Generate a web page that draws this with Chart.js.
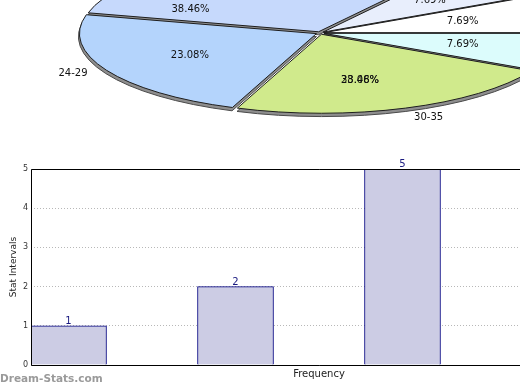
<!DOCTYPE html>
<html><head><meta charset="utf-8">
<script src="https://cdn.jsdelivr.net/npm/chart.js@4.4.1/dist/chart.umd.min.js"></script>
<style>
html,body{margin:0;padding:0;width:520px;height:390px;overflow:hidden;background:#fff;}
#barWrap{position:absolute;left:0;top:150px;}
#pieWrap{position:absolute;left:40px;top:-217px;}
#credit{position:absolute;left:0;top:372px;font:bold 10.5px 'DejaVu Sans';line-height:13px;color:#9a9a9a;white-space:nowrap;}
</style></head><body>
<div id="barWrap"><canvas id="bar" width="640" height="240"></canvas></div>
<div id="pieWrap"><canvas id="pie" width="560" height="500"></canvas></div>
<div id="credit">Dream-Stats.com</div>
<script>
// ---------- data ----------
// pie slices, clockwise from 3 o'clock
const pieCategories = ['', '30-35', '24-29', '', '', ''];
const pieValues = [1, 3, 3, 4, 1, 1];
const pieValueLabels = [['7.69%'], ['23.08%', '38.46%'], ['23.08%'], ['38.46%'], ['7.69%'], ['7.69%']];
// bar chart
const barValues = [1, 2, 5];
const yTicks = [0, 1, 2, 3, 4, 5];
const xTitle = 'Frequency';
const yTitle = 'Stat Intervals';

// ---------- style ----------
const pieColors = ['#dcfcfc', '#d0ea8c', '#b4d4fc', '#c6d9fc', '#e8eefc', '#ffffff'];
const pieStyle = { ratio: 1 / 3, depth: 3, radius: 237, explode: 16, labelR: 0.62, outerR: 1.16,
  labelAt: [0.5, 0.56, 0.5, 0.13, 0.5, 0.5], outerAt: [0.5, 0.47, 0.52, 0.5, 0.5, 0.5] };
const FONT = "'DejaVu Sans'";

function arcGeom(a) {
  const off = (a.options.offset || 0) / 4;
  const mid = (a.startAngle + a.endAngle) / 2;
  const circ = a.endAngle - a.startAngle;
  const fix = 1 - Math.sin(Math.min(Math.PI, circ));
  return { cx: a.x + Math.cos(mid) * off, cy: a.y + Math.sin(mid) * off * pieStyle.ratio, r: a.outerRadius + off * fix };
}

const pie3d = {
  id: 'pie3d',
  beforeDatasetsDraw(chart) {
    const ctx = chart.ctx;
    const arcs = chart.getDatasetMeta(0).data;
    const k = pieStyle.ratio, d = pieStyle.depth;
    ctx.save();
    arcs.forEach(a => {
      const g = arcGeom(a);
      ctx.beginPath();
      ctx.moveTo(g.cx, g.cy + d);
      ctx.ellipse(g.cx, g.cy + d, g.r + 1, (g.r + 1) * k, 0, a.startAngle, a.endAngle);
      ctx.closePath();
      ctx.fillStyle = '#8e8e8e'; ctx.fill();
      ctx.strokeStyle = '#4a4a4a'; ctx.lineWidth = 1; ctx.stroke();
    });
    ctx.restore();
    ctx.save();
    const cy = arcs[0].y;
    ctx.translate(0, cy); ctx.scale(1, k); ctx.translate(0, -cy);
  },
  afterDatasetsDraw(chart) {
    const ctx = chart.ctx;
    ctx.restore();
    const arcs = chart.getDatasetMeta(0).data;
    const k = pieStyle.ratio;
    ctx.save();
    arcs.forEach(a => {
      const g = arcGeom(a);
      ctx.beginPath();
      ctx.moveTo(g.cx, g.cy);
      ctx.ellipse(g.cx, g.cy, g.r, g.r * k, 0, a.startAngle, a.endAngle);
      ctx.closePath();
      ctx.strokeStyle = '#1e1e1e'; ctx.lineWidth = 1; ctx.stroke();
    });
    ctx.font = '10px ' + FONT;
    ctx.fillStyle = '#111';
    ctx.textAlign = 'center';
    ctx.textBaseline = 'middle';
    arcs.forEach((a, i) => {
      const R = a.outerRadius;
      const t = a.startAngle + pieStyle.labelAt[i] * (a.endAngle - a.startAngle);
      const lx = a.x + Math.cos(t) * R * pieStyle.labelR;
      const ly = a.y + Math.sin(t) * R * pieStyle.labelR * k;
      pieValueLabels[i].forEach(s => ctx.fillText(s, lx, ly));
      if (pieCategories[i]) {
        const m = a.startAngle + pieStyle.outerAt[i] * (a.endAngle - a.startAngle);
        ctx.fillText(pieCategories[i], a.x + Math.cos(m) * R * pieStyle.outerR, a.y + Math.sin(m) * R * pieStyle.outerR * k);
      }
    });
    ctx.restore();
  }
};

new Chart(document.getElementById('pie'), {
  type: 'pie',
  data: { labels: pieCategories, datasets: [{ data: pieValues, backgroundColor: pieColors, borderWidth: 0,
    offset: pieStyle.explode, hoverOffset: 0, radius: pieStyle.radius, clip: false }] },
  options: { responsive: false, animation: false, events: [], rotation: 90,
    layout: { padding: 0 },
    plugins: { legend: { display: false }, tooltip: { enabled: false } } },
  plugins: [pie3d]
});

const barDecor = {
  id: 'barDecor',
  afterDraw(chart) {
    const { ctx, chartArea: { left, top, right, bottom } } = chart;
    ctx.save();
    ctx.strokeStyle = '#000'; ctx.lineWidth = 1;
    const L = Math.round(left) + 0.5, T = Math.round(top) + 0.5, B = Math.round(bottom) + 0.5;
    ctx.beginPath();
    ctx.moveTo(right, T); ctx.lineTo(L, T); ctx.lineTo(L, B); ctx.lineTo(right, B);
    ctx.stroke();
    ctx.font = '10px ' + FONT;
    ctx.fillStyle = '#1a1a80';
    ctx.textAlign = 'center';
    ctx.textBaseline = 'alphabetic';
    chart.getDatasetMeta(0).data.forEach((b, i) => ctx.fillText(String(barValues[i]), b.x, b.y - 2));
    ctx.restore();
  }
};

new Chart(document.getElementById('bar'), {
  type: 'bar',
  data: { datasets: [{ data: barValues.map((v, i) => ({ x: i, y: v })), backgroundColor: '#cccce4',
    borderColor: '#000080', borderWidth: 1, barThickness: 76 }] },
  options: {
    responsive: false, animation: false, events: [],
    layout: { padding: { top: 19, right: 33, left: 0, bottom: 0 } },
    plugins: { legend: { display: false }, tooltip: { enabled: false } },
    scales: {
      x: { type: 'linear', offset: false, min: -0.2246, max: 3.2246, grid: { display: false, drawTicks: false },
        border: { display: false }, ticks: { display: false },
        title: { display: true, text: xTitle, color: '#222', font: { family: 'DejaVu Sans', size: 10 }, padding: { top: 3, bottom: 10 } } },
      y: { min: 0, max: 5, z: 1,
        afterBuildTicks(s) { s.ticks = yTicks.map(v => ({ value: v })); },
        afterFit(s) { s.width = 31; },
        ticks: { color: '#333', font: { family: 'DejaVu Sans', size: 8 }, padding: 3 },
        grid: { color: '#b8b8b8', lineWidth: 1, drawTicks: false },
        border: { display: false, dash: [1, 2] },
        title: { display: true, text: yTitle, color: '#222', font: { family: 'DejaVu Sans', size: 9 }, padding: { top: 8, bottom: 0 } } }
    }
  },
  plugins: [barDecor]
});
</script>
</body></html>
